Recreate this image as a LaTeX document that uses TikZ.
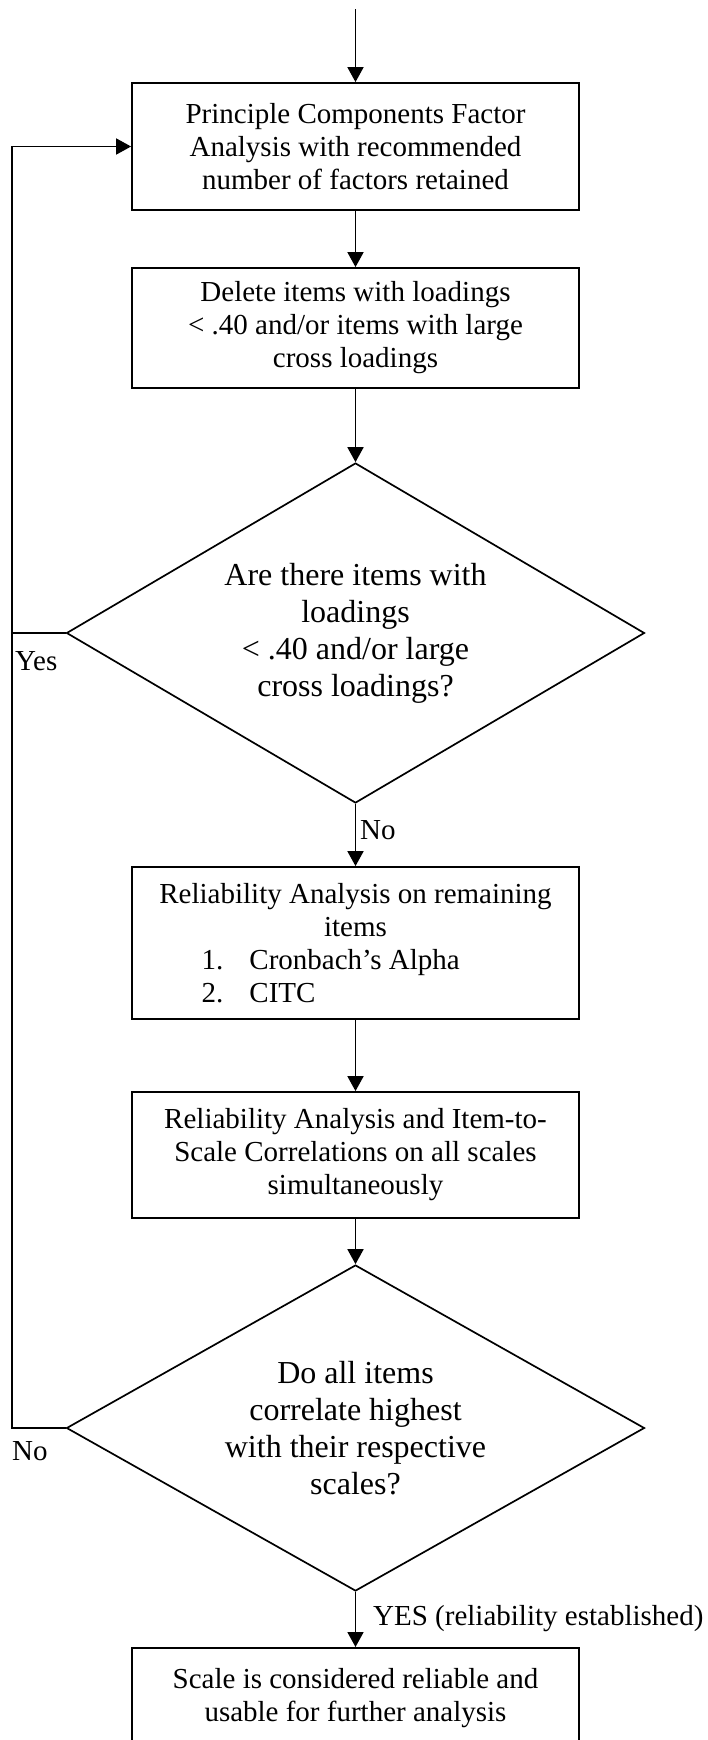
\documentclass[tikz,border=0pt]{standalone}
\usepackage{fontspec}
\setmainfont{Liberation Serif}
\usetikzlibrary{arrows.meta,shapes.geometric}
\begin{document}
\begin{tikzpicture}[x=1pt,y=-1pt,
  boxstyle/.style={draw, line width=1.8pt, minimum width=447pt, inner sep=0pt, align=center,
    font=\fontsize{29}{33}\selectfont},
  decision/.style={draw, diamond, line width=1.7pt, minimum width=578pt, inner sep=0pt, aspect=1.7,
    align=center, font=\fontsize{32}{37}\selectfont},
  lbl/.style={inner sep=0pt, font=\fontsize{29}{33}\selectfont},
  conn/.style={line width=1.8pt},
  arr/.style={line width=1.8pt, -{Triangle[length=15pt,width=16pt]}}]
\clip (0,0) rectangle (708,1740);
\fill[white] (0,0) rectangle (708,1740);

\node[boxstyle, minimum height=127pt] (b1) at (355.5,146.5)
  {Principle Components Factor\\Analysis with recommended\\number of factors retained};
\node[boxstyle, minimum height=120pt] (b2) at (355.5,328)
  {Delete items with loadings\\\textless{} .40 and/or items with large\\cross loadings};
\node[decision, minimum height=340pt] (d1) at (355.5,633)
  {Are there items with\\loadings\\\textless{} .40 and/or large\\cross loadings?};
\node[boxstyle, minimum height=152pt] (b3) at (355.5,943)
  {Reliability Analysis on remaining\\items\\
   \makebox[398pt][l]{\hspace{45pt}\makebox[48pt][l]{1.}Cronbach’s Alpha}\\
   \makebox[398pt][l]{\hspace{45pt}\makebox[48pt][l]{2.}CITC}};
\node[boxstyle, minimum height=126pt] (b4) at (355.5,1155)
  {Reliability Analysis and Item-to-\\Scale Correlations on all scales\\simultaneously};
\node[decision, minimum height=326pt] (d2) at (355.5,1428)
  {Do all items\\correlate highest\\with their respective\\scales?};
\node[boxstyle, minimum height=100pt, anchor=north] (b5) at (355.5,1647)
  {Scale is considered reliable and\\usable for further analysis};

\coordinate (start) at (355.5,9);
\coordinate (fb1) at (12,633);
\coordinate (fb2) at (12,1428);

\draw[arr] (start) -- (b1.north);
\draw[arr] (b1.south) -- (b2.north);
\draw[arr] (b2.south) -- (d1.north);
\draw[arr] (d1.south) -- (b3.north);
\draw[arr] (b3.south) -- (b4.north);
\draw[arr] (b4.south) -- (d2.north);
\draw[arr] (d2.south) -- (b5.north);

\draw[conn] (d1.west) -- (fb1);
\draw[arr] (d2.west) -- (fb2) |- (b1.west);

\node[lbl, anchor=base west] (yes) at (15,670) {Yes};
\node[lbl, anchor=base west] (no2) at (12,1460) {No};
\node[lbl, anchor=base west] (no1) at (360,839) {No};
\node[lbl, anchor=base west] (yes2) at (373,1625) {YES (reliability established)};
\end{tikzpicture}
\end{document}
